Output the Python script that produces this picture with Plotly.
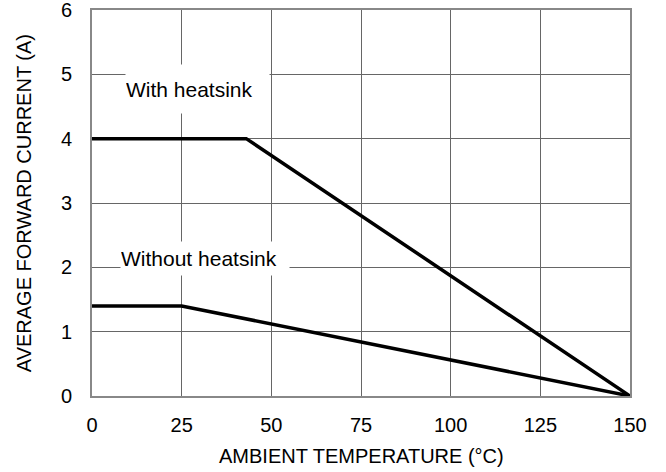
import plotly.graph_objects as go

with_x = [0, 43, 150]
with_y = [4, 4, 0]
without_x = [0, 25, 150]
without_y = [1.4, 1.4, 0]
x_ticks = [0, 25, 50, 75, 100, 125, 150]
y_ticks = [0, 1, 2, 3, 4, 5, 6]

FAM = "Liberation Sans, Arial, sans-serif"
font = dict(family=FAM, size=20, color="black")

fig = go.Figure()
fig.add_trace(go.Scatter(x=with_x, y=with_y, mode="lines",
                         line=dict(color="black", width=3.5), showlegend=False))
fig.add_trace(go.Scatter(x=without_x, y=without_y, mode="lines",
                         line=dict(color="black", width=3.5), showlegend=False))

fig.add_annotation(x=29.4, y=4.77, text="With heatsink", showarrow=False,
                   bgcolor="white", borderpad=0, width=143, height=48,
                   align="left", font=dict(family=FAM, size=21, color="black"))
fig.add_annotation(x=31.4, y=2.14, text="Without heatsink", showarrow=False,
                   bgcolor="white", borderpad=0, width=168, height=33,
                   align="left", font=dict(family=FAM, size=21, color="black"))

# axis titles
fig.add_annotation(xref="paper", yref="paper", x=0.5, y=-0.155, yanchor="middle",
                   text="AMBIENT TEMPERATURE (°C)", showarrow=False, font=font)
fig.add_annotation(xref="paper", yref="paper", x=-0.126, y=0.5, xanchor="center",
                   textangle=-90, text="AVERAGE FORWARD CURRENT (A)",
                   showarrow=False, font=font)

fig.update_layout(
    width=666, height=472,
    margin=dict(l=92, r=36, t=10, b=76),
    paper_bgcolor="white", plot_bgcolor="white",
    font=font,
    xaxis=dict(range=[0, 150], tickvals=x_ticks, showgrid=True, gridcolor="#666",
               gridwidth=1, showline=True, linecolor="#888", linewidth=2, mirror=True,
               ticks="", ticklabelstandoff=10, zeroline=False, automargin=False,
               ticklabeloverflow="allow"),
    yaxis=dict(range=[0, 6], tickvals=y_ticks, showgrid=True, gridcolor="#666",
               gridwidth=1, showline=True, linecolor="#888", linewidth=2, mirror=True,
               ticks="", ticklabelstandoff=14, zeroline=False, automargin=False,
               ticklabeloverflow="allow"),
)
fig.write_html("out.html", config={"displayModeBar": False},
               post_script="document.body.style.margin='0';document.body.style.overflow='hidden';")
